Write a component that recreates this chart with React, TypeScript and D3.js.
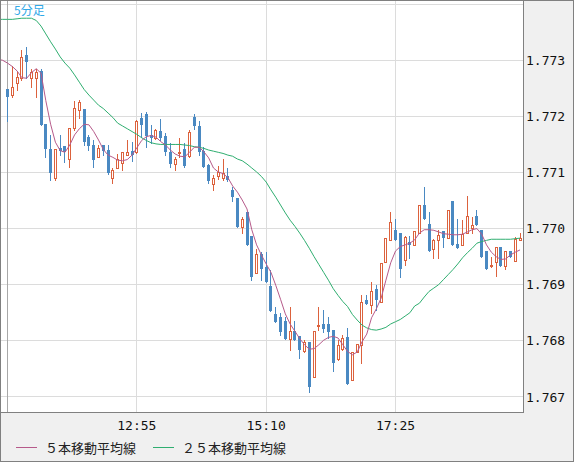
import * as d3 from 'd3'

// 5分足 OHLC (index 0 = 10:40)
const opens = [
  1.77249, 1.77238, 1.7726, 1.77268, 1.77309, 1.77268, 1.77269, 1.77281, 1.77186, 1.77142,
  1.77091, 1.77143, 1.77148, 1.77124, 1.77179, 1.77211, 1.77214, 1.77164, 1.77149, 1.77127,
  1.77149, 1.7714, 1.77091, 1.77108, 1.77117, 1.77132, 1.77138, 1.77136, 1.77198, 1.77204,
  1.77167, 1.77162, 1.77174, 1.77165, 1.77136, 1.77116, 1.77134, 1.77141, 1.77129, 1.77199,
  1.77182, 1.77138, 1.77113, 1.77079, 1.77094, 1.77091, 1.77093, 1.77068, 1.77055, 1.77003,
  1.77029, 1.76986, 1.76921, 1.76955, 1.76932, 1.76898, 1.76847, 1.76842, 1.76836, 1.76803,
  1.76818, 1.76809, 1.76782, 1.76797, 1.76735, 1.76828, 1.7683, 1.7683, 1.76819, 1.76767,
  1.76785, 1.76806, 1.7673, 1.7678, 1.76793, 1.76873, 1.76864, 1.76892, 1.76869, 1.76941,
  1.76979, 1.76998, 1.76993, 1.76944, 1.76977, 1.76971, 1.76992, 1.77042, 1.77008, 1.76963,
  1.7698, 1.76996, 1.76983, 1.77049, 1.76973, 1.76971, 1.76992, 1.77001, 1.77022, 1.76998,
  1.7696, 1.76934, 1.76941, 1.76967, 1.76934, 1.7696, 1.76942, 1.76979,
]
const highs = [
  1.77249, 1.7729, 1.7728, 1.77318, 1.77324, 1.77284, 1.77284, 1.77284, 1.77186, 1.77166,
  1.77142, 1.77167, 1.77148, 1.77179, 1.77227, 1.7723, 1.77214, 1.77167, 1.77158, 1.77149,
  1.77149, 1.77149, 1.77108, 1.77133, 1.77136, 1.77158, 1.77154, 1.77194, 1.77206, 1.77208,
  1.77185, 1.77177, 1.77195, 1.7717, 1.77152, 1.77128, 1.77161, 1.77152, 1.77175, 1.77204,
  1.77191, 1.77146, 1.77116, 1.77096, 1.77112, 1.77124, 1.77108, 1.77074, 1.77055, 1.77021,
  1.77029, 1.76986, 1.76963, 1.76959, 1.76959, 1.76926, 1.76861, 1.76849, 1.76843, 1.76861,
  1.76836, 1.76809, 1.76801, 1.76797, 1.76818, 1.7686, 1.76855, 1.76843, 1.76819, 1.76801,
  1.7681, 1.76822, 1.7678, 1.76794, 1.76882, 1.76882, 1.76905, 1.769, 1.76938, 1.76983,
  1.7703, 1.77017, 1.76993, 1.76986, 1.76986, 1.76996, 1.77042, 1.77075, 1.77029, 1.76981,
  1.76998, 1.76996, 1.77034, 1.77049, 1.77018, 1.77015, 1.77058, 1.77021, 1.77034, 1.76998,
  1.7696, 1.7695, 1.76968, 1.76967, 1.7696, 1.7696, 1.76985, 1.76993,
]
const lows = [
  1.77191, 1.77235, 1.77247, 1.77265, 1.77268, 1.77253, 1.77235, 1.77185, 1.77128, 1.77087,
  1.77087, 1.77131, 1.77119, 1.7711, 1.77176, 1.77197, 1.77149, 1.7714, 1.7711, 1.77127,
  1.77131, 1.77097, 1.77082, 1.77108, 1.77105, 1.77132, 1.7712, 1.77134, 1.77164, 1.77146,
  1.77152, 1.77159, 1.77158, 1.77131, 1.7711, 1.77105, 1.77128, 1.7711, 1.77128, 1.77177,
  1.77131, 1.7711, 1.77081, 1.77069, 1.77088, 1.77087, 1.77084, 1.7705, 1.77003, 1.76992,
  1.7697, 1.76908, 1.76921, 1.76908, 1.76904, 1.76854, 1.76834, 1.7681, 1.76803, 1.76784,
  1.76801, 1.76769, 1.7678, 1.76709, 1.76735, 1.76819, 1.76815, 1.76805, 1.76747, 1.76766,
  1.76784, 1.76723, 1.7673, 1.7678, 1.7676, 1.76866, 1.76849, 1.76855, 1.76869, 1.76941,
  1.76979, 1.76979, 1.76913, 1.76935, 1.76947, 1.76971, 1.76992, 1.77017, 1.7696, 1.76947,
  1.76947, 1.76968, 1.76983, 1.76971, 1.76966, 1.76971, 1.76992, 1.76992, 1.77006, 1.76949,
  1.76928, 1.76932, 1.76916, 1.76934, 1.76928, 1.76949, 1.76942, 1.76979,
]
const closes = [
  1.77235, 1.77252, 1.7727, 1.77305, 1.77297, 1.7728, 1.7728, 1.77185, 1.77141, 1.77099,
  1.77142, 1.77139, 1.77137, 1.77179, 1.77215, 1.77225, 1.77154, 1.77148, 1.77122, 1.77144,
  1.77139, 1.771, 1.77105, 1.77124, 1.77136, 1.77136, 1.77132, 1.77191, 1.77185, 1.77165,
  1.77162, 1.77175, 1.77161, 1.77136, 1.77116, 1.77124, 1.77137, 1.77111, 1.77173, 1.77182,
  1.77137, 1.7711, 1.77085, 1.77091, 1.77101, 1.77099, 1.77086, 1.77057, 1.77003, 1.77017,
  1.7697, 1.76913, 1.76955, 1.76928, 1.76904, 1.76854, 1.76834, 1.76816, 1.76803, 1.76818,
  1.76801, 1.76784, 1.76797, 1.76718, 1.76818, 1.76829, 1.76821, 1.76816, 1.7676, 1.76793,
  1.76805, 1.76723, 1.7678, 1.76794, 1.7687, 1.76866, 1.76889, 1.76873, 1.76938, 1.76983,
  1.77011, 1.76979, 1.76928, 1.76985, 1.76971, 1.76996, 1.77042, 1.77017, 1.7696, 1.76979,
  1.76989, 1.76984, 1.77033, 1.76971, 1.76966, 1.7699, 1.77022, 1.77006, 1.77006, 1.76949,
  1.76928, 1.76936, 1.76967, 1.76934, 1.7696, 1.76949, 1.76981, 1.76984,
]

// moving averages; first value belongs to index -2
const maFirstIndex = -2
const ma5 = [
  1.77302, 1.773, 1.77295, 1.77289, 1.77281, 1.77269, 1.77268, 1.77278, 1.77285, 1.77277,
  1.77228, 1.77186, 1.77154, 1.77139, 1.77136, 1.77149, 1.77167, 1.77178, 1.77186, 1.77185,
  1.77173, 1.77158, 1.77141, 1.77131, 1.77127, 1.77122, 1.77121, 1.77123, 1.77131, 1.77144,
  1.77157, 1.77164, 1.77166, 1.77163, 1.77155, 1.77149, 1.7714, 1.77133, 1.77129, 1.77128,
  1.77136, 1.77145, 1.77145, 1.77137, 1.77126, 1.77108, 1.77101, 1.77098, 1.77091, 1.77076,
  1.77065, 1.77051, 1.77035, 1.76998, 1.76971, 1.76953, 1.76937, 1.76922, 1.76899, 1.76874,
  1.76848, 1.7683, 1.76817, 1.76804, 1.76793, 1.76785, 1.76786, 1.76793, 1.76801, 1.76806,
  1.76808, 1.76805, 1.76793, 1.76781, 1.76775, 1.7678, 1.76798, 1.76812, 1.76841, 1.76857,
  1.76876, 1.76908, 1.76939, 1.7696, 1.76968, 1.76971, 1.76974, 1.7698, 1.76992, 1.76998,
  1.76998, 1.76997, 1.76994, 1.76991, 1.7699, 1.76989, 1.76989, 1.7699, 1.76994, 1.76998,
  1.77, 1.7699, 1.76971, 1.76958, 1.7695, 1.76945, 1.76946, 1.76953, 1.76958, 1.76962,
]
const ma25 = [
  1.77373, 1.77373, 1.77373, 1.77373, 1.77374, 1.77375, 1.77375, 1.77375, 1.77371, 1.77361,
  1.77347, 1.77333, 1.7732, 1.77306, 1.77295, 1.77286, 1.77274, 1.77261, 1.77248, 1.77238,
  1.77229, 1.7722, 1.77214, 1.77206, 1.77198, 1.77188, 1.77183, 1.77178, 1.77173, 1.77168,
  1.77162, 1.77157, 1.77153, 1.77151, 1.7715, 1.7715, 1.7715, 1.7715, 1.7715, 1.77149,
  1.77148, 1.77146, 1.77145, 1.77143, 1.7714, 1.77138, 1.77136, 1.77134, 1.77131, 1.77129,
  1.77124, 1.77121, 1.77115, 1.77108, 1.77101, 1.77093, 1.77083, 1.77069, 1.77056, 1.77042,
  1.77028, 1.77015, 1.77004, 1.76992, 1.76979, 1.76965, 1.7695, 1.76936, 1.76922, 1.76908,
  1.76893, 1.76881, 1.7687, 1.76861, 1.76847, 1.76837, 1.76828, 1.76823, 1.7682, 1.76819,
  1.76821, 1.76824, 1.7683, 1.76834, 1.76838, 1.76844, 1.7685, 1.76862, 1.76867, 1.76878,
  1.76888, 1.76894, 1.769, 1.76909, 1.76918, 1.76927, 1.76937, 1.76948, 1.76957, 1.76965,
  1.76974, 1.76977, 1.76979, 1.76981, 1.76981, 1.76981, 1.76981, 1.76981, 1.76982, 1.76983,
]

const priceTicks = [1.767, 1.768, 1.769, 1.77, 1.771, 1.772, 1.773, 1.774]
const priceLabels = ['1.767', '1.768', '1.769', '1.770', '1.771', '1.772', '1.773', '']
const timeTicks = [0, 27, 54, 81]
const timeLabels = ['', '12:55', '15:10', '17:25']

const title = '5分足'
const legendNames = ['５本移動平均線', '２５本移動平均線']

const UP = '#dc623d'
const DOWN = '#4a89c2'
const MA5_COLOR = '#b65a8a'
const MA25_COLOR = '#2fae70'

const width = 574
const height = 462
const plot = { left: 1, top: 1, right: 523, bottom: 412 }

export default function App() {
  const x = d3.scaleLinear().domain([0, 81]).range([7.5, 395.5])
  const y = d3.scaleLinear().domain([1.767, 1.774]).range([396.9, 4.2])

  const maLine = d3
    .line<number>()
    .x((_, i) => x(i + maFirstIndex))
    .y((d) => y(d))

  const snap = (v: number) => Math.floor(v) + 0.5

  return (
    <>
      <style>{'body{margin:0}'}</style>
      <svg width={width} height={height} style={{ display: 'block' }}>
        <defs>
          <clipPath id="plot-clip">
            <rect x={plot.left} y={plot.top} width={plot.right - plot.left} height={plot.bottom - plot.top} />
          </clipPath>
        </defs>

        {/* frame */}
        <rect x={0} y={0} width={width} height={height} fill="#f0f0f0" />
        <rect x={plot.left} y={plot.top} width={plot.right - plot.left} height={plot.bottom - plot.top} fill="#fff" />

        {/* grid */}
        <g shapeRendering="crispEdges">
          {priceTicks.map((t) => (
            <line key={t} x1={plot.left} x2={plot.right} y1={snap(y(t))} y2={snap(y(t))} stroke="#dcdcdc" />
          ))}
          {timeTicks.map((t, i) => (
            <line
              key={t}
              x1={snap(x(t))}
              x2={snap(x(t))}
              y1={plot.top}
              y2={plot.bottom}
              stroke={i === 0 ? '#a8a8a8' : '#dcdcdc'}
            />
          ))}
        </g>

        <g clipPath="url(#plot-clip)">
          {/* candles */}
          <g shapeRendering="crispEdges">
            {opens.map((o, i) => {
              const c = closes[i]
              const up = c >= o
              const color = up ? UP : DOWN
              const left = Math.floor(x(i)) - 1
              const top = Math.round(y(Math.max(o, c)))
              const bottom = Math.round(y(Math.min(o, c)))
              const hi = Math.round(y(highs[i]))
              const lo = Math.round(y(lows[i]))
              return (
                <g key={i}>
                  <line x1={left + 1.5} x2={left + 1.5} y1={hi} y2={lo + 1} stroke={color} />
                  {up ? (
                    <rect
                      x={left + 0.5}
                      y={top + 0.5}
                      width={2}
                      height={Math.max(bottom - top, 1)}
                      fill="#fff"
                      stroke={color}
                    />
                  ) : (
                    <rect x={left} y={top} width={3} height={Math.max(bottom - top, 1)} fill={color} />
                  )}
                </g>
              )
            })}
          </g>

          {/* moving averages */}
          <path d={maLine(ma25) ?? ''} fill="none" stroke={MA25_COLOR} strokeWidth={1} />
          <path d={maLine(ma5) ?? ''} fill="none" stroke={MA5_COLOR} strokeWidth={1} />
        </g>

        {/* plot border */}
        <g shapeRendering="crispEdges" stroke="#808080">
          <line x1={plot.right + 0.5} x2={plot.right + 0.5} y1={0} y2={plot.bottom + 1} />
          <line x1={0} x2={plot.right + 1} y1={plot.bottom + 0.5} y2={plot.bottom + 0.5} />
          <rect x={0.5} y={0.5} width={width - 1} height={height - 1} fill="none" />
        </g>

        {/* price axis */}
        <g fontFamily="'DejaVu Sans Mono', monospace" fontSize={13} fill="#111">
          {priceTicks.map((t, i) =>
            priceLabels[i] ? (
              <text key={t} x={plot.right + 3} y={y(t)} dy="0.36em">
                {priceLabels[i]}
              </text>
            ) : null
          )}
          {timeTicks.map((t, i) =>
            timeLabels[i] ? (
              <text key={t} x={x(t)} y={430} textAnchor="middle">
                {timeLabels[i]}
              </text>
            ) : null
          )}
        </g>

        {/* title */}
        <text x={14} y={15} fontFamily="'Noto Sans CJK JP', sans-serif" fontSize={12} fill="#2fa8e8">
          {title}
        </text>

        {/* legend */}
        <g fontFamily="'Noto Sans CJK JP', sans-serif" fontSize={13} fill="#222">
          <line x1={16} x2={37} y1={447.5} y2={447.5} stroke={MA5_COLOR} />
          <text x={45} y={453}>{legendNames[0]}</text>
          <line x1={153} x2={174} y1={447.5} y2={447.5} stroke={MA25_COLOR} />
          <text x={182} y={453}>{legendNames[1]}</text>
        </g>
      </svg>
    </>
  )
}
